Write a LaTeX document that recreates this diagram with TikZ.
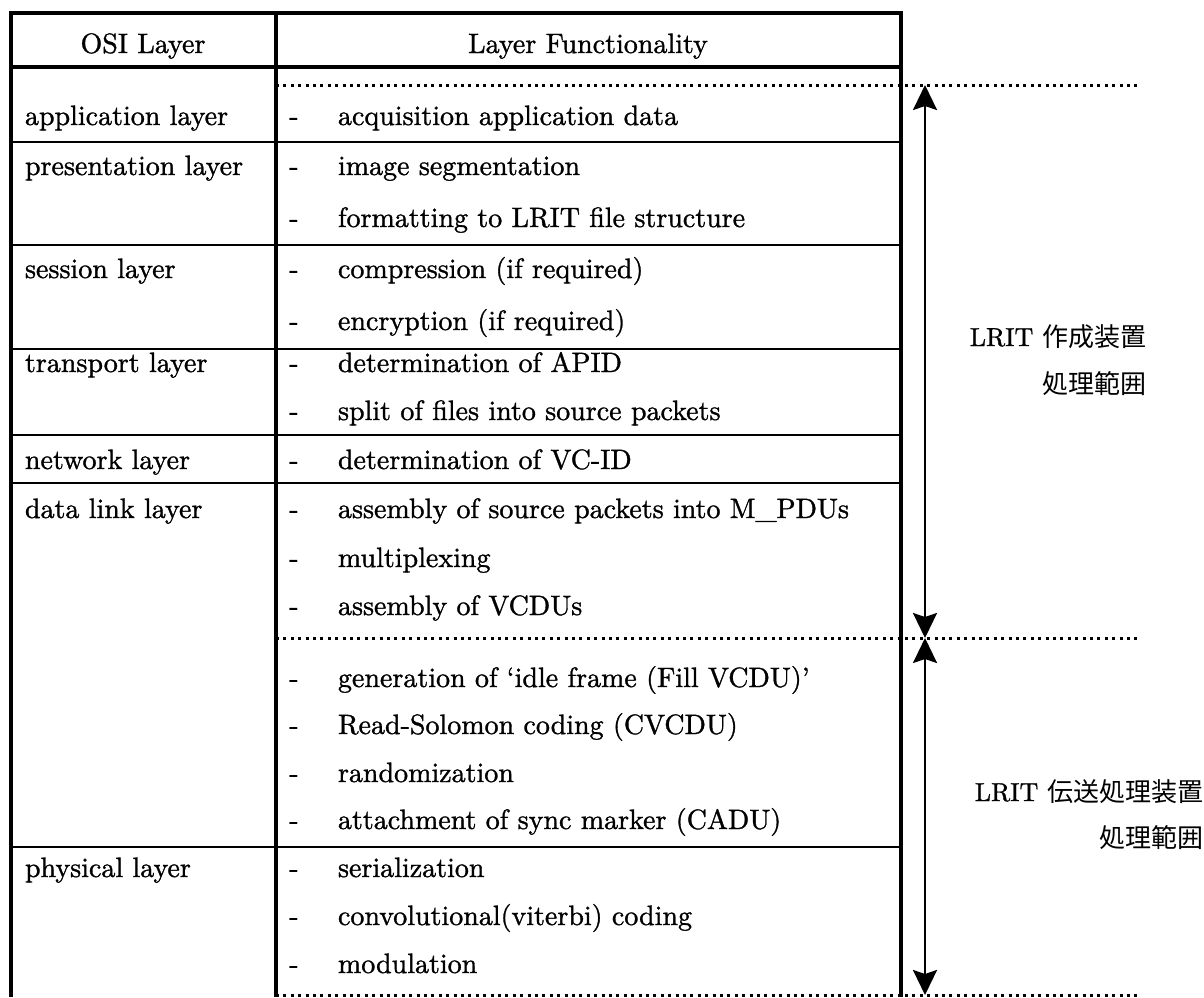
\documentclass[tikz,border=0pt]{standalone}
\usepackage{fontspec}
\setmainfont{lmroman10-regular.otf}[FakeBold=1.1]
\newfontfamily\jpfont{Noto Sans CJK JP}
\usetikzlibrary{arrows.meta}

\begin{document}
\begin{tikzpicture}[x=1pt,y=-1pt,
  every node/.style={inner sep=0pt, outer sep=0pt, font=\fontsize{28}{34}\selectfont},
  heavy/.style={line width=3.2pt},
  rule/.style={line width=1.8pt},
  dotline/.style={line width=3pt, dash pattern=on 3pt off 4.4pt},
  span/.style={line width=2.6pt, {Stealth[length=25pt,width=24pt,inset=4pt]}-{Stealth[length=25pt,width=24pt,inset=4pt]}},
  headtext/.style={anchor=base},
  layer/.style={anchor=base west},
  dashmark/.style={anchor=base},
  item/.style={anchor=base west},
  jp/.style={anchor=base east, font=\fontsize{26}{30}\selectfont}]
\useasboundingbox (0,0) rectangle (1204,997);
\fill[white] (0,0) rectangle (1204,997);

% dotted range boundaries
\foreach \y in {85,638,995} \draw[dotline] (276,\y) -- (1140,\y);

% table frame
\draw[heavy] (11,13) -- (901,13);
\draw[heavy] (11,67) -- (901,67);
\draw[heavy] (11,11.4) -- (11,997);
\draw[heavy] (276,11.4) -- (276,997);
\draw[heavy] (901,11.4) -- (901,997);
\foreach \y in {142,245,349,435,483,847} \draw[rule] (11,\y) -- (901,\y);

% header
\node[headtext] (hOSI) at (143,53) {OSI Layer};
\node[headtext] (hFun) at (588,53) {Layer Functionality};

% layer names
\node[layer] (Lapp) at (25,125) {application layer};
\node[layer] (Lpre) at (25,175) {presentation layer};
\node[layer] (Lses) at (25,278) {session layer};
\node[layer] (Ltra) at (25,372) {transport layer};
\node[layer] (Lnet) at (25,469) {network layer};
\node[layer] (Ldat) at (25,518) {data link layer};
\node[layer] (Lphy) at (25,877) {physical layer};

% functions
\foreach \n/\y/\t in {
  f1/125/{acquisition application data},
  f2/175/{image segmentation},
  f3/227/{formatting to LRIT file structure},
  f4/278/{compression (if required)},
  f5/330/{encryption (if required)},
  f6/372/{determination of APID},
  f7/420/{split of files into source packets},
  f8/469/{determination of VC-ID},
  f9/518/{assembly of source packets into M\_PDUs},
  f10/567/{multiplexing},
  f11/615/{assembly of VCDUs},
  f12/687/{generation of ‘idle frame (Fill VCDU)’},
  f13/734/{Read-Solomon coding (CVCDU)},
  f14/782/{randomization},
  f15/829/{attachment of sync marker (CADU)},
  f16/877/{serialization},
  f17/925/{convolutional(viterbi) coding},
  f18/973/{modulation}} {
  \node[dashmark] (\n d) at (294,\y) {-};
  \node[item] (\n) at (338,\y) {\t};
}

% processing ranges
\coordinate (rTop) at (925,85);
\coordinate (rMid) at (925,638);
\coordinate (rBot) at (925,995);
\draw[span] (rTop) -- (rMid);
\draw[span] (rMid) -- (rBot);

\node[jp] (gen1) at (1146,346) {LRIT {\jpfont 作成装置}};
\node[jp] (gen2) at (1146,393) {\jpfont 処理範囲};
\node[jp] (tx1) at (1203,801) {LRIT {\jpfont 伝送処理装置}};
\node[jp] (tx2) at (1203,847) {\jpfont 処理範囲};
\end{tikzpicture}
\end{document}
